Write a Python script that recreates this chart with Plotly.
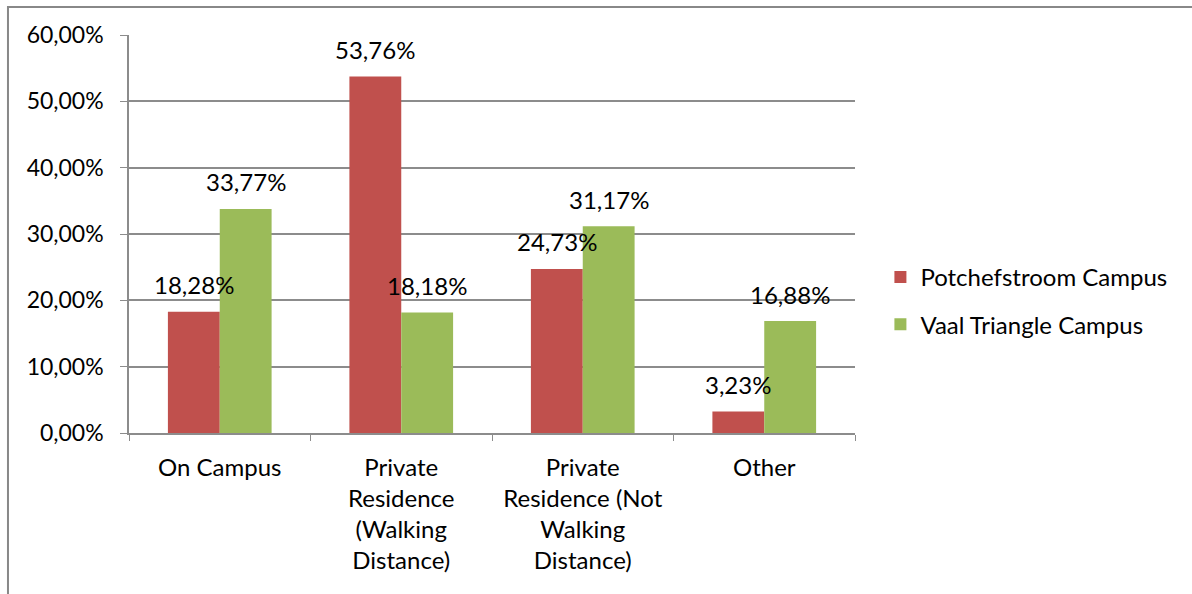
import plotly.graph_objects as go

# Chart data
categories = ['On Campus', 'Private<br>Residence<br>(Walking<br>Distance)',
              'Private<br>Residence (Not<br>Walking<br>Distance)', 'Other']
potchefstroom = [0.1828, 0.5376, 0.2473, 0.0323]
vaal_triangle = [0.3377, 0.1818, 0.3117, 0.1688]
series_names = ['Potchefstroom Campus', 'Vaal Triangle Campus']

font_family = 'Lato, Carlito, Calibri, sans-serif'
text_color = '#000000'
grid_color = '#8c8c8c'

fig = go.Figure()

fig.add_trace(go.Bar(
    x=categories, y=potchefstroom, name=series_names[0],
    legendgroup='a',
    marker=dict(color='#C0504D', line=dict(width=0)),
))
fig.add_trace(go.Bar(
    x=categories, y=vaal_triangle, name=series_names[1],
    legendgroup='b',
    marker=dict(color='#9BBB59', line=dict(width=0)),
))

# Data labels above each bar
bar_offset = 26
for cat, val in zip(categories, potchefstroom):
    fig.add_annotation(x=cat, y=val, text=f'{val*100:.2f}%'.replace('.', ','),
                       xshift=-bar_offset, yshift=27, showarrow=False,
                       font=dict(family=font_family, size=24, color=text_color))
for cat, val in zip(categories, vaal_triangle):
    fig.add_annotation(x=cat, y=val, text=f'{val*100:.2f}%'.replace('.', ','),
                       xshift=bar_offset, yshift=27, showarrow=False,
                       font=dict(family=font_family, size=24, color=text_color))

# Outer chart border
fig.add_shape(type='rect', xref='paper', yref='paper',
              x0=-0.1667, x1=1.5, y0=-0.6, y1=1.0705,
              line=dict(color='#888888', width=2), layer='above')

fig.update_layout(
    width=1192, height=594,
    plot_bgcolor='white', paper_bgcolor='white',
    separators=',.',
    barmode='group', bargap=0.4286, bargroupgap=0,
    margin=dict(l=129, r=337, t=35, b=161, pad=0),
    font=dict(family=font_family, size=24, color=text_color),
    legend=dict(x=1.035, y=0.332, xanchor='left', yanchor='middle',
                font=dict(size=24), itemwidth=30, tracegroupgap=13,
                traceorder='grouped', bgcolor='rgba(0,0,0,0)'),
    xaxis=dict(
        showline=True, linecolor=grid_color, linewidth=1.5,
        ticks='outside', tickson='boundaries', ticklen=6, tickcolor=grid_color,
        showgrid=False, tickangle=0, ticklabelstandoff=12,
        tickfont=dict(family=font_family, size=24, color=text_color),
    ),
    yaxis=dict(
        range=[0, 0.6], dtick=0.1, tickformat='.2%',
        showline=True, linecolor=grid_color, linewidth=1.5,
        ticks='outside', ticklen=7, tickcolor=grid_color, ticklabelstandoff=12,
        showgrid=True, gridcolor=grid_color, gridwidth=1.5, zeroline=False,
        tickfont=dict(family=font_family, size=23, color=text_color),
    ),
)

# Remove the default page margin so the figure fills the window
fig.write_html('out.html', config={'displayModeBar': False},
               post_script="document.body.style.margin='0';")
